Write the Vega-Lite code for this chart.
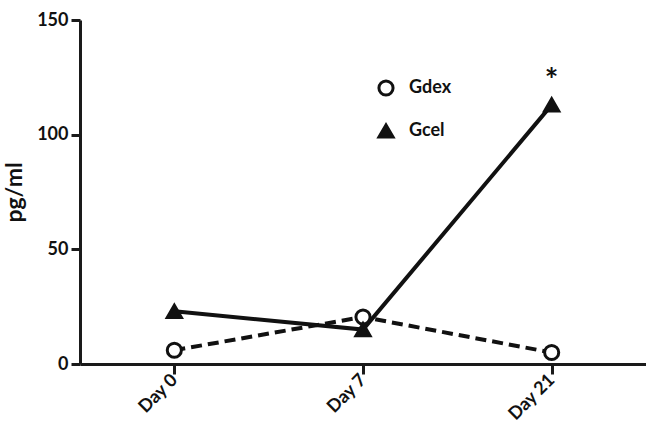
{
  "$schema": "https://vega.github.io/schema/vega-lite/v6.json",
  "width": 566,
  "height": 344,
  "autosize": {"type": "none"},
  "padding": {"left": 80, "top": 20, "right": 0, "bottom": 63},
  "background": "white",
  "config": {
    "view": {"stroke": null},
    "font": "Lato",
    "axis": {"grid": false, "domainColor": "#1a1a1a", "tickColor": "#1a1a1a", "labelColor": "#111", "titleColor": "#111", "labelFontWeight": "bold", "titleFontWeight": "bold"}
  },
  "datasets": {
    "pts": [
      {"day": "Day 0", "value": 6, "group": "Gdex"},
      {"day": "Day 7", "value": 20.5, "group": "Gdex"},
      {"day": "Day 21", "value": 5, "group": "Gdex"},
      {"day": "Day 0", "value": 23, "group": "Gcel"},
      {"day": "Day 7", "value": 15, "group": "Gcel"},
      {"day": "Day 21", "value": 113, "group": "Gcel"}
    ],
    "sig": [{"day": "Day 21", "value": 127, "label": "*"}]
  },
  "layer": [
    {
      "data": {"name": "pts"},
      "transform": [{"filter": "datum.group == 'Gdex'"}],
      "mark": {"type": "line", "strokeWidth": 4, "color": "#111", "strokeDash": [11, 6]},
      "encoding": {
        "x": {"field": "day", "type": "ordinal", "sort": ["Day 0", "Day 7", "Day 21"],
          "scale": {"type": "point", "padding": 0.5},
          "axis": {"title": null, "labelAngle": -45, "labelFontSize": 18, "domainWidth": 3, "tickWidth": 3, "tickSize": 10, "labelPadding": 3, "labelAlign": "right", "labelBaseline": "middle"}},
        "y": {"field": "value", "type": "quantitative",
          "scale": {"domain": [0, 150], "nice": false, "zero": true},
          "axis": {"title": "pg/ml", "values": [0, 50, 100, 150], "labelFontSize": 18, "titleFontSize": 23, "domainWidth": 3, "tickWidth": 3, "tickSize": 9, "labelPadding": 3, "titlePadding": 10}}
      }
    },
    {
      "data": {"name": "pts"},
      "transform": [{"filter": "datum.group == 'Gcel'"}],
      "mark": {"type": "line", "strokeWidth": 4, "color": "#111"},
      "encoding": {
        "x": {"field": "day", "type": "ordinal", "sort": ["Day 0", "Day 7", "Day 21"]},
        "y": {"field": "value", "type": "quantitative"}
      }
    },
    {
      "data": {"name": "pts"},
      "mark": {"type": "point", "strokeWidth": 3, "stroke": "#111", "opacity": 1, "size": 200},
      "encoding": {
        "x": {"field": "day", "type": "ordinal", "sort": ["Day 0", "Day 7", "Day 21"]},
        "y": {"field": "value", "type": "quantitative"},
        "shape": {"field": "group", "type": "nominal", "scale": {"domain": ["Gdex", "Gcel"], "range": ["circle", "triangle-up"]},
          "legend": {"title": null, "orient": "none", "legendX": 297, "legendY": 59, "labelFontSize": 18, "labelFontWeight": "bold", "labelColor": "#111", "symbolSize": 200, "symbolStrokeWidth": 3, "rowPadding": 16, "labelOffset": 14,
            "encode": {"symbols": {"update": {"stroke": {"value": "#111"}, "strokeWidth": {"value": 3}, "opacity": {"value": 1}}}}}},
        "fill": {"field": "group", "type": "nominal", "scale": {"domain": ["Gdex", "Gcel"], "range": ["white", "#111"]}}
      }
    },
    {
      "data": {"name": "sig"},
      "mark": {"type": "text", "fontSize": 32, "fontWeight": "bold", "color": "#111", "baseline": "middle", "dy": 9},
      "encoding": {
        "x": {"field": "day", "type": "ordinal", "sort": ["Day 0", "Day 7", "Day 21"]},
        "y": {"field": "value", "type": "quantitative"},
        "text": {"field": "label"}
      }
    }
  ]
}
